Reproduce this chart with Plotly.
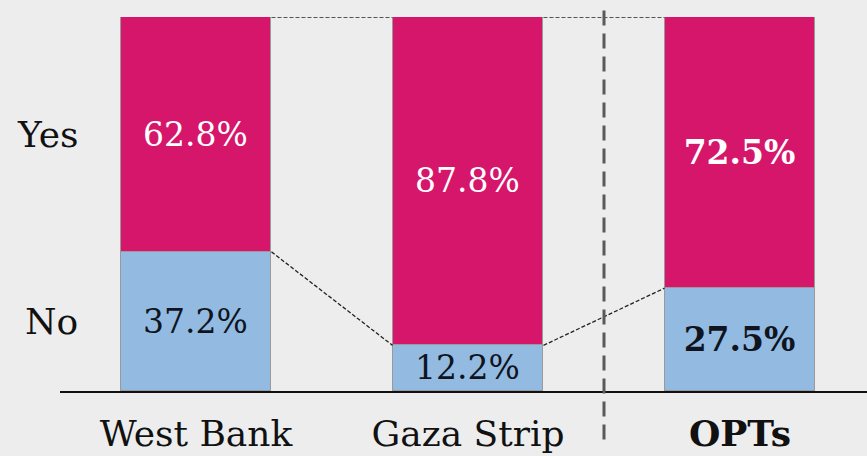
import plotly.graph_objects as go

categories = ["West Bank", "Gaza Strip", "OPTs"]
tick_labels = ["West Bank", "Gaza Strip", "<b>OPTs</b>"]
no_values = [37.2, 12.2, 27.5]
yes_values = [62.8, 87.8, 72.5]
bold = [False, False, True]

PINK = "#D5166B"
BLUE = "#93BBE1"
BG = "#EDEDED"
FONT = "DejaVu Serif"

x = [0, 1, 2]
bw = 0.555

def lab(v, b):
    s = f"{v:.1f}%"
    return f"<b>{s}</b>" if b else s

fig = go.Figure()
fig.add_bar(x=x, y=no_values, width=bw, marker=dict(color=BLUE, line=dict(color="#9a9a9a", width=1)),
            text=[lab(v, b) for v, b in zip(no_values, bold)], textposition="inside",
            insidetextanchor="middle", constraintext="none",
            textfont=dict(family=FONT, size=33, color="#0f1420"), hoverinfo="skip")
fig.add_bar(x=x, y=yes_values, width=bw, marker=dict(color=PINK, line=dict(color="#9a9a9a", width=1)),
            text=[lab(v, b) for v, b in zip(yes_values, bold)], textposition="inside",
            insidetextanchor="middle", constraintext="none",
            textfont=dict(family=FONT, size=33, color="#ffffff"), hoverinfo="skip")

# dashed connectors between bars
for i in range(len(x) - 1):
    x0 = x[i] + bw / 2
    x1 = x[i + 1] - bw / 2
    fig.add_shape(type="line", xref="x", yref="y", x0=x0, x1=x1, y0=no_values[i], y1=no_values[i + 1],
                  line=dict(color="#222222", width=1.3, dash="4px,2px"), layer="above")
    fig.add_shape(type="line", xref="x", yref="y", x0=x0, x1=x1,
                  y0=no_values[i] + yes_values[i], y1=no_values[i + 1] + yes_values[i + 1],
                  line=dict(color="#222222", width=1.3, dash="4px,2px"), layer="above")

# vertical separator
fig.add_shape(type="line", xref="x", yref="paper", x0=1.5, x1=1.5, y0=-0.13, y1=1.033,
              line=dict(color="#5a5a5a", width=3, dash="15px,8px"), layer="above")

# row labels
fig.add_annotation(x=0.025, xref="paper", xanchor="right", y=no_values[0] + yes_values[0] / 2, yref="y",
                   text="Yes", showarrow=False, font=dict(family=FONT, size=36, color="#111111"))
fig.add_annotation(x=0.025, xref="paper", xanchor="right", y=no_values[0] / 2, yref="y",
                   text="No", showarrow=False, font=dict(family=FONT, size=36, color="#111111"))

fig.update_layout(
    width=867, height=456,
    margin=dict(l=60, r=0, t=17, b=65),
    paper_bgcolor=BG, plot_bgcolor=BG,
    barmode="stack", bargap=0, showlegend=False,
    xaxis=dict(range=[-0.5, -0.5 + 807 / 272], tickvals=x, ticktext=tick_labels,
               showline=True, linecolor="#111111", linewidth=2, showgrid=False, zeroline=False,
               ticks="", ticklabelstandoff=10,
               tickfont=dict(family=FONT, size=36, color="#111111"), fixedrange=True),
    yaxis=dict(range=[0, 100], visible=False, showgrid=False, zeroline=False, fixedrange=True),
)

fig.write_html("out.html", config={"displayModeBar": False},
               post_script="document.body.style.margin='0px';document.body.style.background='#EDEDED';")
